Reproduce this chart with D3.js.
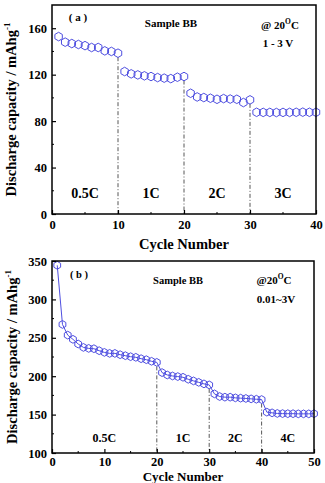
<!DOCTYPE html>
<html><head><meta charset="utf-8">
<script src="https://cdn.jsdelivr.net/npm/d3@7"></script>
<style>body{margin:0;background:#fff}svg{display:block}text{font-family:"Liberation Serif","Times New Roman",serif !important;font-weight:bold;fill:#000}</style>
</head><body><svg id="c" width="325" height="483"></svg>
<script>
const cyclesA = d3.range(1, 41);
const capA = [152.8,148,146.8,146,145,143.4,143.4,140.5,140,138.5,
  122.7,120.7,119.8,119,118.4,117.5,117,116.6,117.8,118.4,
  104,100.8,100.3,99.7,98.8,99.4,99,98.8,96,98.3,
  87.6,87.5,87.5,87.4,87.5,87.5,87.6,87.7,87.6,87.6];
const ticksAX = [0,10,20,30,40];
const ticksAY = [0,40,80,120,160];
const ratesA = ["0.5C","1C","2C","3C"];
const ratePosA = [5,15,25,35];
const dividersA = [10,20,30];

const cyclesB = d3.range(1, 51);
const capB = [344.4,267.4,253.5,248,241.9,237.5,236.2,235.8,233.2,231,
  229.7,229.7,228,226.7,225.4,224.6,222.8,221.5,219.4,218,
  204.7,201.6,200.3,199.5,198.6,196,193.9,192,190,188.7,
  177,173.5,172.7,172.7,171.8,171.4,171,170.5,170,169.6,
  153.2,152.3,151.5,151.3,151.2,151.2,151,151,151,151.2];
const ticksBX = [0,10,20,30,40,50];
const ticksBY = [100,150,200,250,300,350];
const ratesB = ["0.5C","1C","2C","4C"];
const ratePosB = [10,25,35,45];
const dividersB = [20,30,40];

const svg = d3.select("#c");
const blue = "#4f4fe0";
const FF = '"Liberation Serif","Times New Roman",serif';

function hexPath(r){
  const pts = d3.range(6).map(i=>{const a=Math.PI/6+i*Math.PI/3;return [r*Math.cos(a),r*Math.sin(a)];});
  return "M"+pts.map(p=>p.join(",")).join("L")+"Z";
}

function panel(o){
  const g = svg.append("g");
  const x = d3.scaleLinear().domain(o.xd).range([o.left,o.right]);
  const y = d3.scaleLinear().domain(o.yd).range([o.bottom,o.top]);
  o.dividers.forEach(d=>{
    const i = o.cycles.indexOf(d);
    g.append("line").attr("x1",x(d)).attr("x2",x(d)).attr("y1",y(o.vals[i])+4).attr("y2",o.bottom)
      .attr("stroke","#444").attr("stroke-width",0.9).attr("stroke-dasharray","4,2,1,2");
  });
  if(o.line){
    g.append("path").datum(o.cycles.map((c,i)=>[c,o.vals[i]]))
      .attr("d",d3.line().x(d=>x(d[0])).y(d=>y(d[1])))
      .attr("fill","none").attr("stroke",blue).attr("stroke-width",1);
  }
  g.selectAll(".m").data(o.cycles.map((c,i)=>[c,o.vals[i]])).enter().append("path")
    .attr("d",hexPath(o.r)).attr("transform",d=>`translate(${x(d[0])},${y(d[1])})`)
    .attr("fill","none").attr("stroke",blue).attr("stroke-width",1);
  const xa = g.append("g").attr("transform",`translate(0,${o.bottom})`)
    .call(d3.axisBottom(x).tickValues(o.tx).tickSize(-4).tickPadding(o.xpad).tickFormat(d3.format("d")));
  const ya = g.append("g").attr("transform",`translate(${o.left},0)`)
    .call(d3.axisLeft(y).tickValues(o.ty).tickSize(-4).tickPadding(5).tickFormat(d3.format("d")));
  const mx = o.tx.slice(0,-1).map((t,i)=>(t+o.tx[i+1])/2);
  const my = o.ty.slice(0,-1).map((t,i)=>(t+o.ty[i+1])/2);
  g.selectAll(".mx").data(mx).enter().append("line").attr("x1",d=>x(d)).attr("x2",d=>x(d))
    .attr("y1",o.bottom).attr("y2",o.bottom-2).attr("stroke","#000");
  g.selectAll(".my").data(my).enter().append("line").attr("y1",d=>y(d)).attr("y2",d=>y(d))
    .attr("x1",o.left).attr("x2",o.left+2).attr("stroke","#000");
  [xa,ya].forEach(a=>{a.attr("font-family",FF);a.select(".domain").remove();a.selectAll("line").attr("stroke","#000").attr("stroke-width",1.2);
    a.selectAll("text").style("font-family",FF).style("font-weight","bold").style("font-size","12.5px").attr("fill","#000");});
  g.append("rect").attr("x",o.left).attr("y",o.top).attr("width",o.right-o.left).attr("height",o.bottom-o.top)
    .attr("fill","none").attr("stroke","#000").attr("stroke-width",1.5);
  o.rates.forEach((r,i)=>g.append("text").attr("x",x(o.ratePos[i])).attr("y",o.rateY).attr("text-anchor","middle")
    .style("font-size",o.rateFs+"px").text(r));
  const yl = g.append("text").attr("transform",`translate(${o.ylx},${(o.top+o.bottom)/2}) rotate(-90)`)
    .attr("text-anchor","middle").style("font-size","14.5px");
  yl.append("tspan").text("Discharge capacity / mAhg");
  yl.append("tspan").attr("dy",-6).style("font-size","9px").text("-1");
  g.append("text").attr("x",(o.left+o.right)/2).attr("y",o.xly).attr("text-anchor","middle").style("font-size",o.xlfs+"px").text("Cycle Number");
  return {x,y,g};
}

const A = panel({xd:[0,40],yd:[0,180],left:52,right:316,top:5,bottom:214,cycles:cyclesA,vals:capA,
  tx:ticksAX,ty:ticksAY,dividers:dividersA,line:false,r:4.3,rates:ratesA,ratePos:ratePosA,rateY:198,rateFs:14,ylx:16,xly:249,xlfs:14.5,xpad:6});
A.g.append("text").attr("x",78).attr("y",21).attr("text-anchor","middle").style("font-size","11px").text("( a )");
A.g.append("text").attr("x",171).attr("y",27).attr("text-anchor","middle").style("font-size","11px").text("Sample BB");
const ta = A.g.append("text").attr("x",280).attr("y",29).attr("text-anchor","middle").style("font-size","11px");
ta.append("tspan").text("@ 20");ta.append("tspan").attr("dy",-5).style("font-size","7.5px").text("O");ta.append("tspan").attr("dy",5).text("C");
A.g.append("text").attr("x",278).attr("y",47).attr("text-anchor","middle").style("font-size","11px").text("1 - 3 V");

const B = panel({xd:[0,50],yd:[100,350],left:52,right:314,top:261,bottom:453,cycles:cyclesB,vals:capB,
  tx:ticksBX,ty:ticksBY,dividers:dividersB,line:true,r:3.9,rates:ratesB,ratePos:ratePosB,rateY:442,rateFs:12,ylx:17,xly:480.5,xlfs:13,xpad:4});
B.g.append("text").attr("x",79).attr("y",278).attr("text-anchor","middle").style("font-size","10.5px").text("( b )");
B.g.append("text").attr("x",178).attr("y",284).attr("text-anchor","middle").style("font-size","10.5px").text("Sample BB");
const tb = B.g.append("text").attr("x",274).attr("y",284).attr("text-anchor","middle").style("font-size","11px");
tb.append("tspan").text("@20");tb.append("tspan").attr("dy",-5).style("font-size","7.5px").text("O");tb.append("tspan").attr("dy",5).text("C");
B.g.append("text").attr("x",276).attr("y",303).attr("text-anchor","middle").style("font-size","11px").text("0.01~3V");
</script></body></html>
